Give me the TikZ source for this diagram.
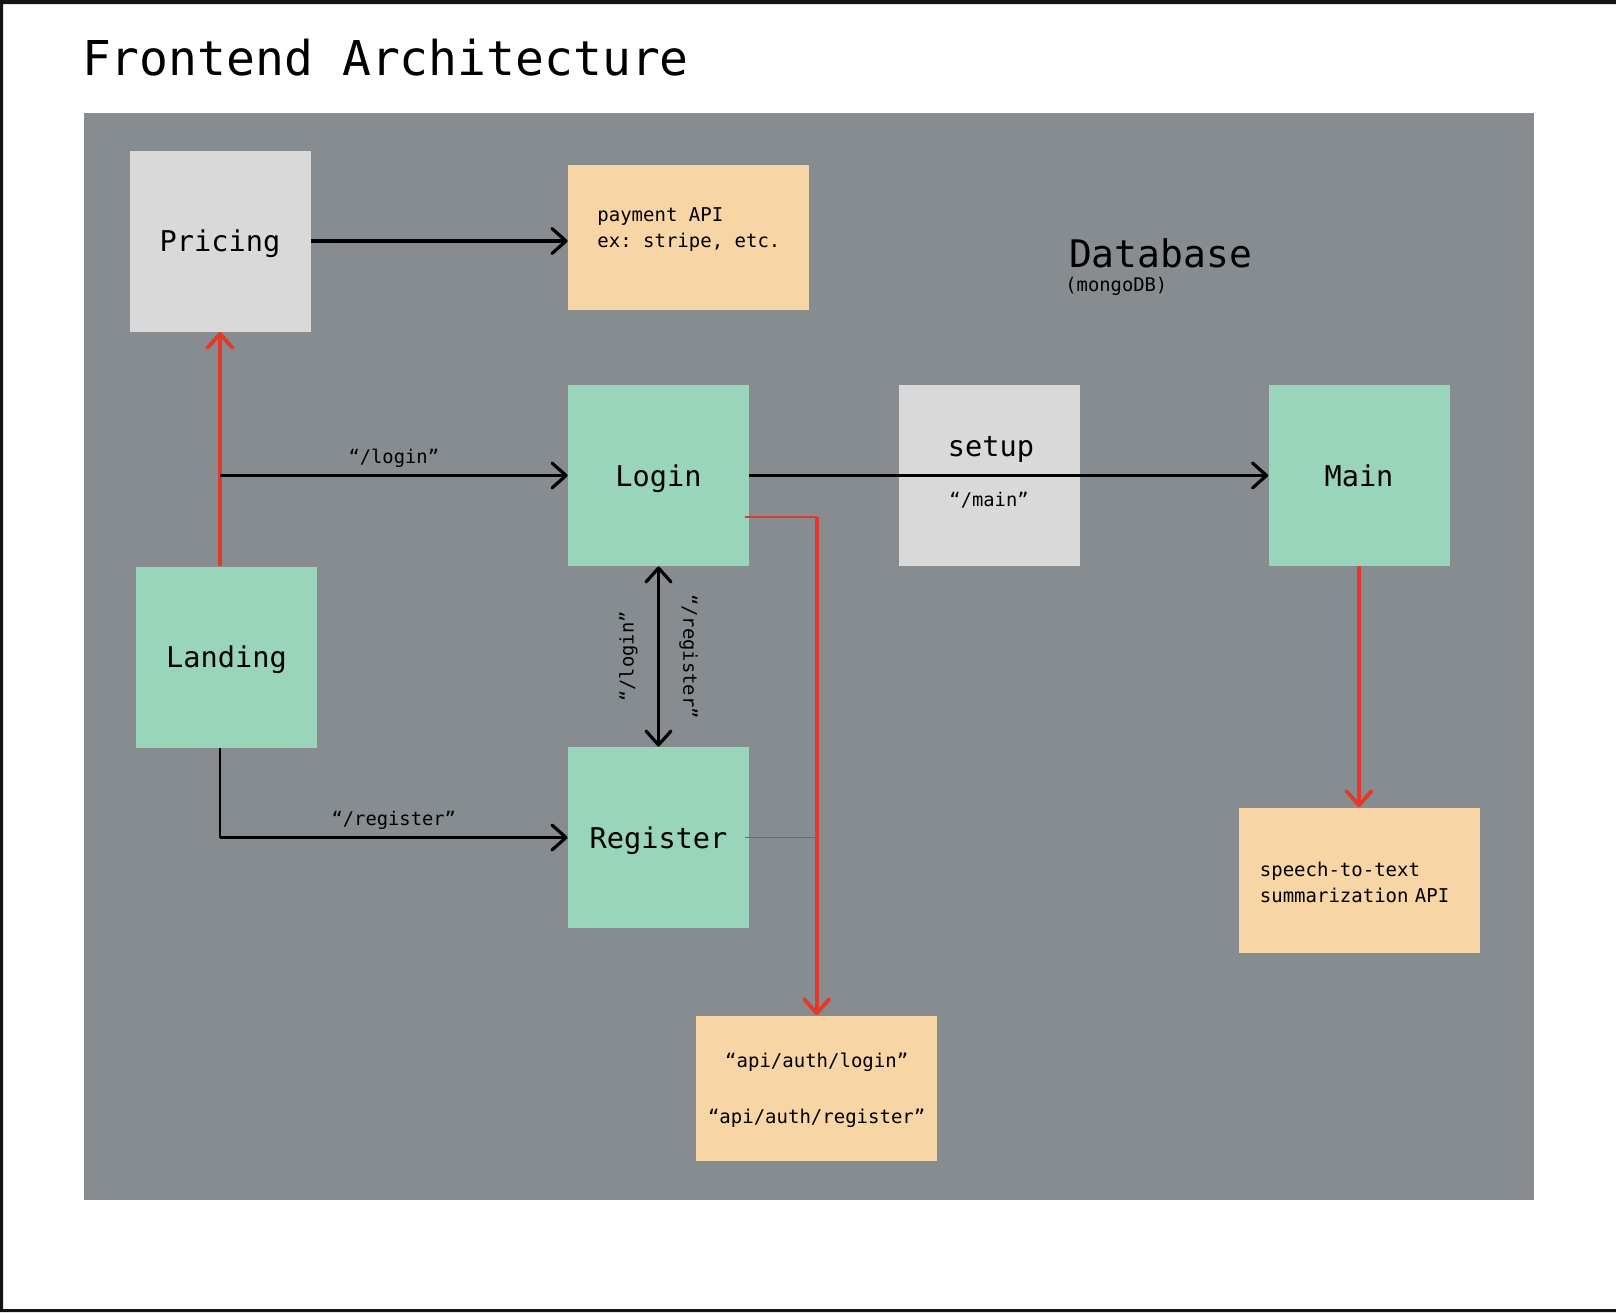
\documentclass[tikz,border=0pt]{standalone}
\usepackage{fontspec}
\setmonofont{DejaVu Sans Mono}
\usepackage{xcolor}
\usetikzlibrary{arrows.meta}

\definecolor{dbgray}{HTML}{868C8F}
\definecolor{pagegray}{HTML}{D9D9D9}
\definecolor{pagegreen}{HTML}{98D5BB}
\definecolor{apiorange}{HTML}{F7D5A5}
\definecolor{apired}{HTML}{E2392B}

\begin{document}
\begin{tikzpicture}[x=0.5pt, y=-0.5pt, font=\ttfamily, >={Straight Barb[length=7pt, width=12.5pt, round]}]
	\tikzstyle{page} = [rectangle, inner sep=0pt, minimum width=90.5pt, minimum height=90.5pt, text depth=0pt, font=\ttfamily\fontsize{14.3}{17}\selectfont]
	\tikzstyle{api} = [rectangle, fill=apiorange, inner sep=0pt, minimum width=120.5pt, minimum height=72.5pt, text depth=0pt, font=\ttfamily\fontsize{9.5}{13}\selectfont]
	\tikzstyle{route} = [inner sep=0pt, font=\ttfamily\fontsize{9.4}{11}\selectfont]
	\tikzstyle{link} = [draw=black, line width=1.6pt, ->]
	\tikzstyle{call} = [draw=apired, line width=1.9pt, ->]

	\useasboundingbox (0,0) rectangle (1616,1312);
	\fill[black!92] (0,0) rectangle (1616,4) (0,0) rectangle (3,1312) (0,1309) rectangle (1616,1312);
	\fill[dbgray] (84,113) rectangle (1534,1200);

	\node[anchor=base west, font=\ttfamily\fontsize{24}{28}\selectfont] (title) at (75,75) {Frontend Architecture};
	\node[anchor=base west, font=\ttfamily\fontsize{19}{22}\selectfont] (db) at (1062,267) {Database};
	\node[anchor=base west, route] (mongo) at (1065,291) {(mongoDB)};

	% pages
	\node[page, fill=pagegray] (pricing) at (220,241) {Pricing};
	\node[page, fill=pagegreen] (login) at (658.5,475.5) {Login};
	\node[page, fill=pagegray] (setup) at (989.5,475.5) {};
	\node[page, minimum height=0pt] (setuptxt) at (991,446) {setup};
	\node[page, fill=pagegreen] (main) at (1359,475.5) {Main};
	\node[page, fill=pagegreen] (landing) at (226.5,657) {Landing};
	\node[page, fill=pagegreen] (register) at (658.5,837.5) {Register};

	% apis
	\node[api] (payment) at (688.5,237.5) {};
	\node[anchor=west, align=left, inner sep=0pt, text depth=0pt, font=\ttfamily\fontsize{9.5}{13}\selectfont] (paytxt) at (597,228) {payment API\\ex: stripe, etc.};
	\node[api, align=center, font=\ttfamily\fontsize{9.5}{27.75}\selectfont] (auth) at (816.7,1088) {“api/auth/login”\\“api/auth/register”};
	\node[api, align=left, text width=99.5pt, inner xsep=10.5pt, text depth=11pt] (speech) at (1359.4,880) {speech-to-text\\summarization API};

	\coordinate (fork) at (pricing.south |- login.west);
	\coordinate (turn) at (pricing.south |- register.west);
	\coordinate (authbend) at (auth.north |- 0,517);

	% routes
	\draw[link] (pricing.east) -- (pricing.east -| payment.west);
	\draw[call] (pricing.south |- landing.north) -- (pricing.south);
	\path (fork) edge[link] node[route, anchor=base, yshift=6pt] {“/login”} (login.west);
	\draw[line width=0.7pt] (turn |- landing.south) -- (turn);
	\path (turn) edge[link] node[route, anchor=base, yshift=6pt] {“/register”} (register.west);
	\draw[link, <->] (login.south) -- (register.north)
		node[midway, route, xshift=-15pt, rotate=90] {“/login”}
		node[midway, route, xshift=15pt, rotate=-90] {“/register”};
	\path (login.east) edge[link] node[route, pos=0.462, anchor=base, yshift=-15.5pt] {“/main”} (main.west);

	% auth calls
	\draw[apired, line width=0.8pt] ([xshift=-2pt]login.east |- authbend) -- (authbend);
	\draw[apired, line width=0.8pt] ([xshift=-2pt]register.east) -- (register.east -| authbend);
	\draw[call] (authbend) -- (auth.north);
	\draw[call] (main.south) -- (main.south |- speech.north);
\end{tikzpicture}
\end{document}
